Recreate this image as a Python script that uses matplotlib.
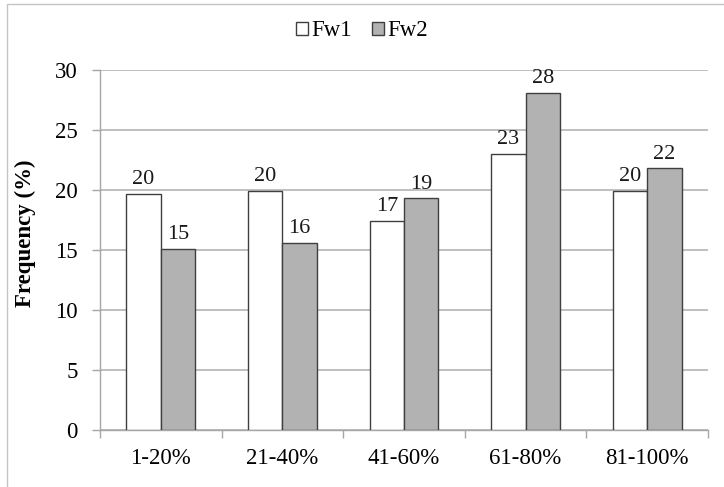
import numpy as np
import matplotlib
matplotlib.use("Agg")
import matplotlib.pyplot as plt
from matplotlib.patches import Rectangle

categories = ["1-20%", "21-40%", "41-60%", "61-80%", "81-100%"]
fw1 = [19.7, 19.9, 17.4, 23.0, 19.9]
fw2 = [15.1, 15.6, 19.3, 28.1, 21.8]
series_names = ["Fw1", "Fw2"]

plt.rcParams["font.family"] = ["Liberation Serif", "DejaVu Serif"]
FS = 16.5

fig = plt.figure(figsize=(7.24, 4.87), dpi=100)
ax = fig.add_axes([100 / 724, 57 / 487, 608 / 724, 360 / 487])

x = np.arange(len(categories))
w = 0.283
edge = "#3f3f3f"
b1 = ax.bar(x - w / 2, fw1, w, color="white", edgecolor=edge, linewidth=1.0,
            label=series_names[0], zorder=3)
b2 = ax.bar(x + w / 2, fw2, w, color="#b2b2b2", edgecolor=edge, linewidth=1.0,
            label=series_names[1], zorder=3)

for bars, vals in ((b1, fw1), (b2, fw2)):
    for r, v in zip(bars, vals):
        ax.annotate(f"{v:.0f}", (r.get_x() + r.get_width() / 2, v),
                    xytext=(0, 3.5), textcoords="offset points",
                    ha="center", va="bottom", fontsize=FS - 0.5,
                    color="#1a1a1a")

ax.set_xlim(-0.5, len(categories) - 0.5)
ax.set_ylim(0, 30)
ax.set_yticks(np.arange(0, 31, 5))
ax.tick_params(axis="y", labelsize=FS, length=6, width=1, color="#a6a6a6",
               pad=10)
ax.set_xticks(x)
ax.set_xticklabels(categories, fontsize=FS)
ax.set_xticks(np.arange(-0.5, len(categories), 1), minor=True)
ax.tick_params(axis="x", which="major", length=0, pad=13)
ax.tick_params(axis="x", which="minor", length=6, width=1, color="#a6a6a6")

ax.yaxis.grid(True, color="#b4b4b4", linewidth=1.2, zorder=0)
ax.set_axisbelow(True)
for s in ("top", "right"):
    ax.spines[s].set_visible(False)
for s in ("left", "bottom"):
    ax.spines[s].set_color("#a6a6a6")
    ax.spines[s].set_linewidth(1.0)

ax.set_ylabel("Frequency (%)", fontsize=FS, fontweight="bold")
ax.yaxis.set_label_coords(-64 / 608, 0.547)

fig.legend(loc="center", bbox_to_anchor=(0.5, 1 - 31 / 487), ncol=2,
           frameon=False, fontsize=FS, handlelength=0.5, handleheight=0.5,
           handletextpad=0.15, columnspacing=0.9, borderaxespad=0)

# chart area border
fig.patches.append(Rectangle((7 / 724, -0.1), 1.2, 1 - 4 / 487 + 0.1,
                             transform=fig.transFigure, fill=False,
                             edgecolor="#c4c4c4", linewidth=1.0))

fig.savefig("out.png", dpi=100)
